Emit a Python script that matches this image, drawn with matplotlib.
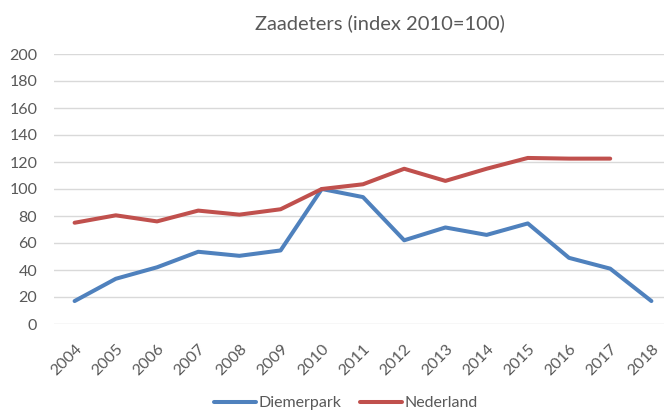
import matplotlib
matplotlib.use("Agg")
import matplotlib.pyplot as plt

# Data
years = [str(y) for y in range(2004, 2019)]
diemerpark = [17, 33.5, 42, 53.5, 50.5, 54.5, 100, 94, 62, 71.5, 66, 74.5, 49, 41, 17]
nederland = [75, 80.5, 76, 84, 81, 85, 100, 103.5, 115, 106, 115, 123, 122.5, 122.5]
y_ticks = [0, 20, 40, 60, 80, 100, 120, 140, 160, 180, 200]

plt.rcParams["font.family"] = ["Lato", "DejaVu Sans"]
text_color = "#595959"

fig = plt.figure(figsize=(6.64, 4.12), dpi=100)
# chart area continues a little past the right edge, as in the cropped original
ax = fig.add_axes([54 / 664, 88 / 412, 618 / 664, 270 / 412])

x_d = list(range(len(diemerpark)))
x_n = list(range(len(nederland)))
ax.plot(x_d, diemerpark, color="#4F81BD", lw=2.9, label="Diemerpark",
        solid_capstyle="round", solid_joinstyle="round", clip_on=False)
ax.plot(x_n, nederland, color="#C0504D", lw=2.9, label="Nederland",
        solid_capstyle="round", solid_joinstyle="round", clip_on=False)

ax.set_xlim(-0.5, len(years) - 0.5)
ax.set_ylim(0, 200)
ax.set_yticks(y_ticks)
ax.set_yticklabels([str(v) for v in y_ticks], fontsize=11.5, color=text_color)
ax.set_xticks(range(len(years)))
ax.set_xticklabels(years, fontsize=11.5, color=text_color, rotation=45,
                   ha="right", va="top", rotation_mode="anchor")

ax.tick_params(axis="both", length=0)
ax.tick_params(axis="y", pad=12)
ax.tick_params(axis="x", pad=13)
ax.grid(axis="y", color="#D9D9D9", lw=1)
ax.set_axisbelow(True)
for s in ax.spines.values():
    s.set_visible(False)

fig.text(380 / 664, 1 - 23 / 412, "Zaadeters (index 2010=100)", ha="center",
         va="center", fontsize=14.5, color=text_color)

leg = fig.legend(loc="center", bbox_to_anchor=(346 / 664, 9 / 412), ncol=2,
                 frameon=False, fontsize=11.5, handlelength=2.6,
                 handletextpad=0.15, columnspacing=1.2, borderpad=0.1)
for t in leg.get_texts():
    t.set_color(text_color)

fig.savefig("out.png", dpi=100)
